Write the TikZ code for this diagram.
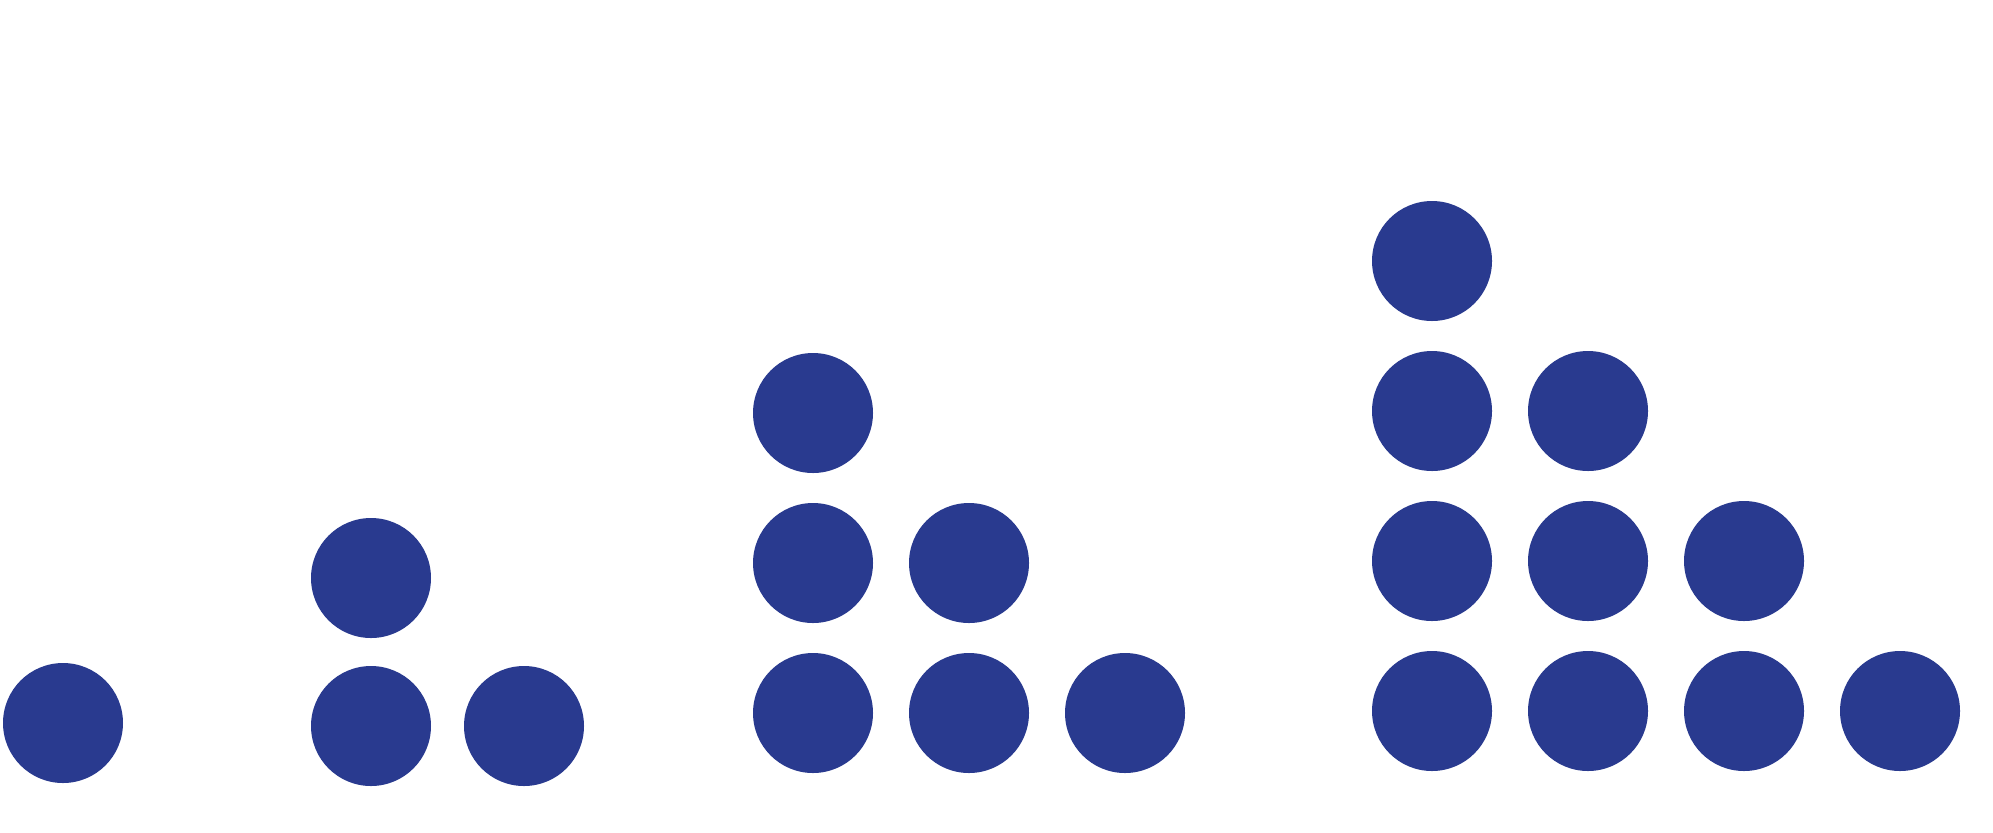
\documentclass[tikz,border=0pt]{standalone}
\usepackage{xcolor}
\usepackage{tikz}
\definecolor{dotblue}{HTML}{293A8F}
\tikzset{dot/.style={circle, fill=dotblue, draw=none, inner sep=0pt, minimum size=12mm}}

\begin{document}
\begin{tikzpicture}[x=0.1mm, y=0.1mm]
		\useasboundingbox (0,0) rectangle (1993,832);
		% one dot
		\node[dot] (one-0-0) at (63,109) {};
		% three dots (2+1)
		\foreach \r in {0,1} {
			\pgfmathtruncatemacro{\last}{1-\r}
			\foreach \c in {0,...,\last}
			\node[dot] (three-\r-\c) at ({371+153*\c},{106+148*\r}) {};
		}
		% six dots (3+2+1)
		\foreach \r in {0,1,2} {
			\pgfmathtruncatemacro{\last}{2-\r}
			\foreach \c in {0,...,\last}
			\node[dot] (six-\r-\c) at ({813+156*\c},{119+150*\r}) {};
		}
		% ten dots (4+3+2+1)
		\foreach \r in {0,...,3} {
			\pgfmathtruncatemacro{\last}{3-\r}
			\foreach \c in {0,...,\last}
			\node[dot] (ten-\r-\c) at ({1432+156*\c},{121+150*\r}) {};
		}
	\end{tikzpicture}
\end{document}
